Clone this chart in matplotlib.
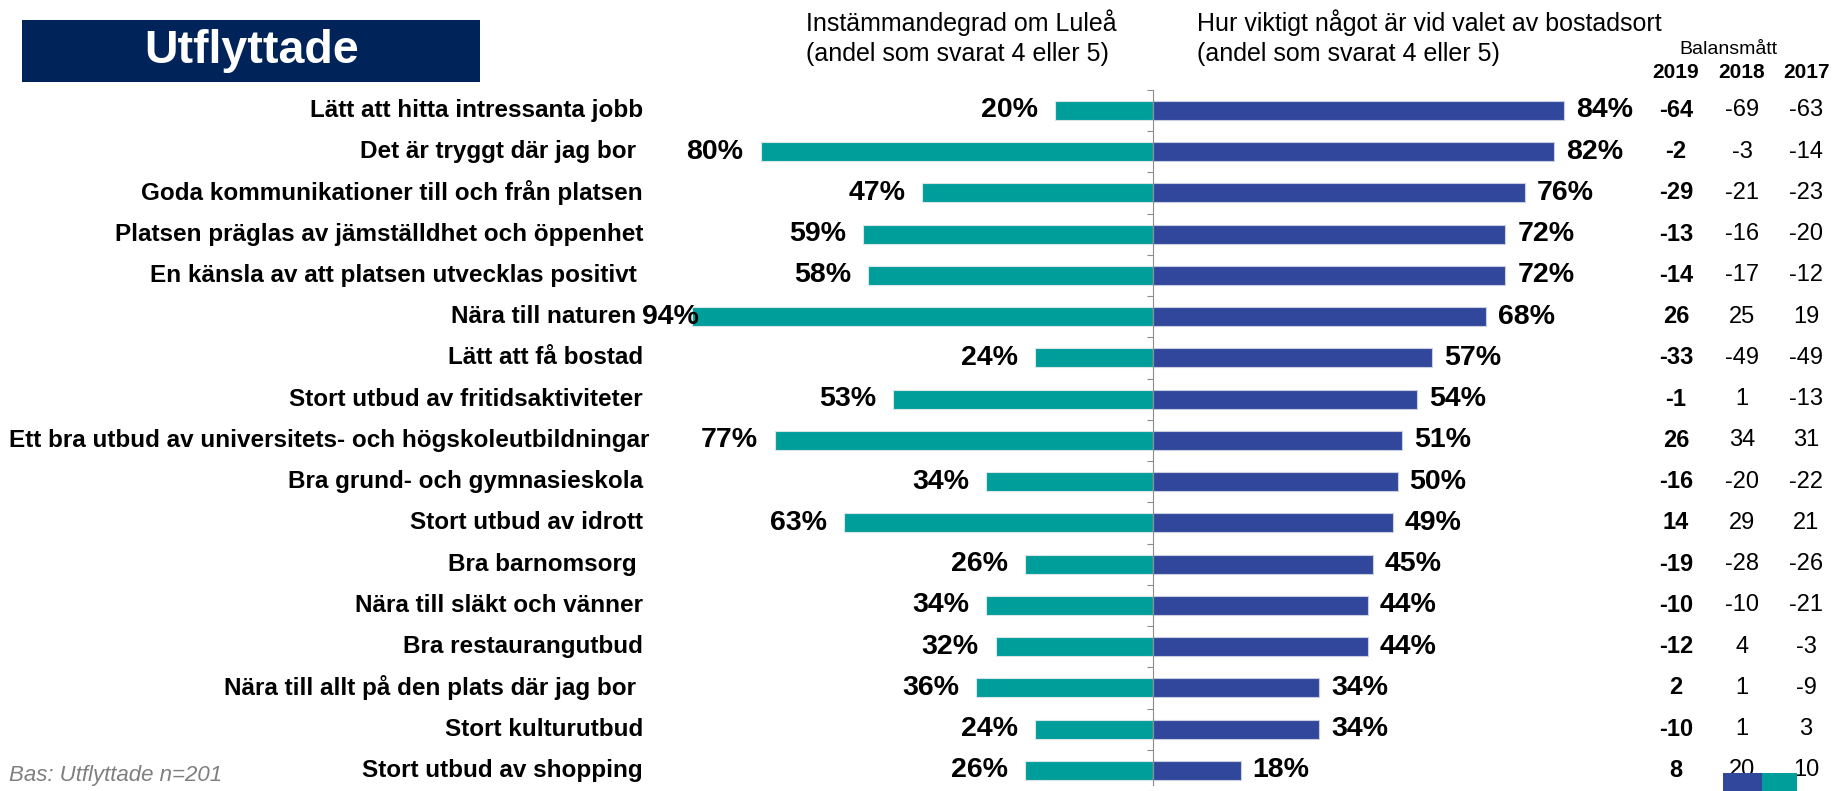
import numpy as np
import matplotlib.pyplot as plt
from matplotlib.patches import Rectangle

plt.rcParams['font.family'] = ['Liberation Sans', 'DejaVu Sans']

categories = [
    'Lätt att hitta intressanta jobb',
    'Det är tryggt där jag bor ',
    'Goda kommunikationer till och från platsen',
    'Platsen präglas av jämställdhet och öppenhet',
    'En känsla av att platsen utvecklas positivt ',
    'Nära till naturen ',
    'Lätt att få bostad',
    'Stort utbud av fritidsaktiviteter',
    'Ett bra utbud av universitets- och högskoleutbildningar',
    'Bra grund- och gymnasieskola',
    'Stort utbud av idrott',
    'Bra barnomsorg ',
    'Nära till släkt och vänner',
    'Bra restaurangutbud',
    'Nära till allt på den plats där jag bor ',
    'Stort kulturutbud',
    'Stort utbud av shopping',
]
instammande = [20, 80, 47, 59, 58, 94, 24, 53, 77, 34, 63, 26, 34, 32, 36, 24, 26]
viktigt = [84, 82, 76, 72, 72, 68, 57, 54, 51, 50, 49, 45, 44, 44, 34, 34, 18]
years = ['2019', '2018', '2017']
balans_2019 = [-64, -2, -29, -13, -14, 26, -33, -1, 26, -16, 14, -19, -10, -12, 2, -10, 8]
balans_2018 = [-69, -3, -21, -16, -17, 25, -49, 1, 34, -20, 29, -28, -10, 4, 1, 1, 20]
balans_2017 = [-63, -14, -23, -20, -12, 19, -49, -13, 31, -22, 21, -26, -21, -3, -9, 3, 10]

TEAL = '#009E9A'
BLUE = '#31479B'
NAVY = '#00245A'

W, H = 1837, 791
CENTER_PX = 1152.5
PX_PER_PCT = 4.9
ROW0_PX = 111.2
ROW_STEP = 41.54


def xpx(px):
    return (px - CENTER_PX) / PX_PER_PCT


fig = plt.figure(figsize=(W / 100, H / 100), dpi=100)
ax = fig.add_axes([0, 0, 1, 1])
ax.set_xlim(xpx(0), xpx(W))
ax.set_ylim((H - ROW0_PX) / ROW_STEP, -ROW0_PX / ROW_STEP)

y = np.arange(len(categories))
left = np.array(instammande)
right = np.array(viktigt)

ax.barh(y, -left, height=0.46, color=TEAL, edgecolor='#D9E6E6', linewidth=0.8)
ax.barh(y, right, height=0.46, color=BLUE, edgecolor='#C9CEE0', linewidth=0.8)

# centre axis with ticks between categories
for s in ['top', 'right', 'bottom']:
    ax.spines[s].set_visible(False)
ax.spines['left'].set_position(('data', 0))
ax.spines['left'].set_color('#8C8C8C')
ax.spines['left'].set_bounds(-0.5, (H - ROW0_PX) / ROW_STEP)
ax.set_yticks(np.arange(-0.5, len(categories), 1.0))
ax.set_yticklabels([])
ax.tick_params(axis='y', direction='out', length=4.5, color='#8C8C8C', width=0.8)
ax.set_xticks([])

cat_texts = []
for i, (lv, rv) in enumerate(zip(instammande, viktigt)):
    t = ax.text(xpx(643), i, categories[i], ha='right', va='center',
                fontsize=17.5, fontweight='bold')
    cat_texts.append(t)
    lx = max(-lv - 17 / PX_PER_PCT, xpx(699))
    ax.text(lx, i, f'{lv}%', ha='right', va='center', fontsize=20.5, fontweight='bold')
    ax.text(rv + 12 / PX_PER_PCT, i, f'{rv}%', ha='left', va='center',
            fontsize=20.5, fontweight='bold')

# a label too long for the text box spills over to the right, like in the original
renderer = fig.canvas.get_renderer()
for t in cat_texts:
    bb = t.get_window_extent(renderer)
    if bb.x0 < 9:
        t.set_ha('left')
        t.set_x(xpx(9))

col_px = [1676, 1742, 1806]
for i in range(len(categories)):
    ax.text(xpx(col_px[0]), i, str(balans_2019[i]), ha='center', va='center',
            fontsize=17, fontweight='bold')
    ax.text(xpx(col_px[1]), i, str(balans_2018[i]), ha='center', va='center', fontsize=17)
    ax.text(xpx(col_px[2]), i, str(balans_2017[i]), ha='center', va='center', fontsize=17)

# headers
fig.text(806 / W, 1 - 23 / H, 'Instämmandegrad om Luleå', ha='left', va='center', fontsize=18)
fig.text(806 / W, 1 - 54 / H, '(andel som svarat 4 eller 5)', ha='left', va='center', fontsize=18)
fig.text(1197 / W, 1 - 23 / H, 'Hur viktigt något är vid valet av bostadsort', ha='left',
         va='center', fontsize=18)
fig.text(1197 / W, 1 - 54 / H, '(andel som svarat 4 eller 5)', ha='left', va='center', fontsize=18)
fig.text(1728 / W, 1 - 50 / H, 'Balansmått', ha='center', va='center', fontsize=14)
for yr, cx in zip(years, col_px):
    fig.text(cx / W, 1 - 73 / H, yr, ha='center', va='center', fontsize=15, fontweight='bold')

# title box
fig.patches.append(Rectangle((22 / W, 1 - 82 / H), 458 / W, 62 / H, transform=fig.transFigure,
                             facecolor=NAVY, edgecolor='none'))
fig.text(252 / W, 1 - 51 / H, 'Utflyttade', ha='center', va='center', color='white',
         fontsize=33.5, fontweight='bold')

fig.text(9 / W, 1 - 776 / H, 'Bas: Utflyttade n=201', ha='left', va='center',
         fontsize=16, style='italic', color='#7F7F7F')

# logo fragment peeking in at the bottom right
fig.patches.append(Rectangle((1723 / W, 0), 39 / W, 18 / H, transform=fig.transFigure,
                             facecolor=BLUE, edgecolor='none', zorder=0))
fig.patches.append(Rectangle((1762 / W, 0), 35 / W, 18 / H, transform=fig.transFigure,
                             facecolor=TEAL, edgecolor='none', zorder=0))

fig.savefig('out.png', dpi=100)
